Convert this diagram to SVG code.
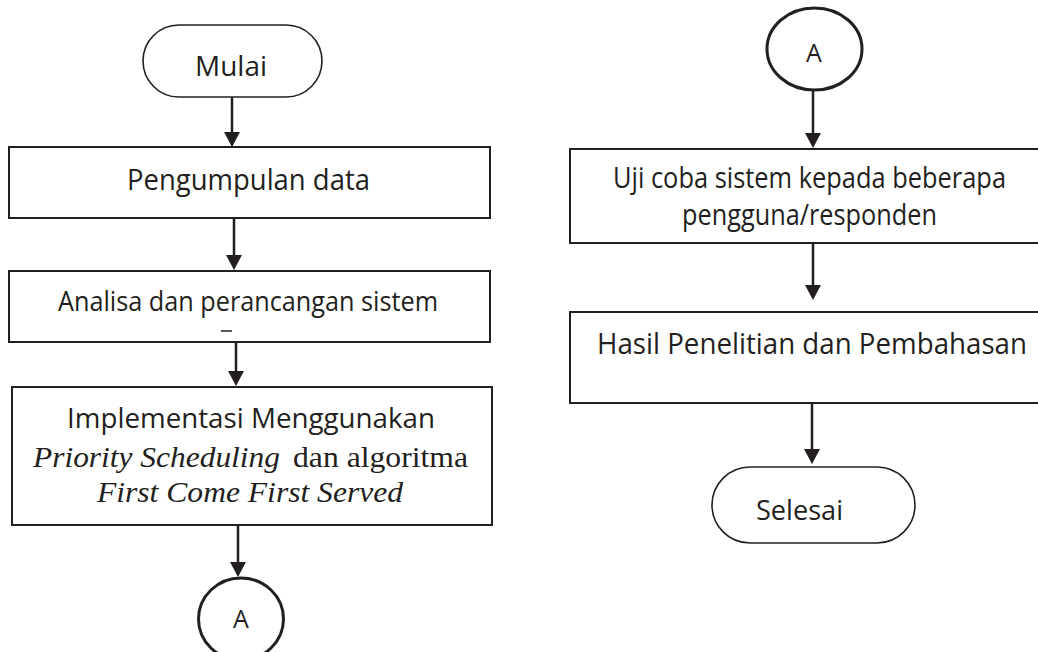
<svg xmlns="http://www.w3.org/2000/svg" width="1038" height="652" viewBox="0 0 1038 652">
<style>
.bg{fill:#ffffff}
.box{fill:#ffffff;stroke:#231f20;stroke-width:2}
.term{fill:#ffffff;stroke:#231f20;stroke-width:1.6}
.conn{fill:#ffffff;stroke:#231f20;stroke-width:3}
.edge{fill:none;stroke:#231f20;stroke-width:2.5}
.t{font-family:"Open Sans","Noto Sans","Liberation Sans",sans-serif;fill:#231f20;text-anchor:middle}
.s{font-family:"Liberation Serif","Times New Roman",serif;fill:#231f20}
.i{font-style:italic}
</style>
<defs>
<marker id="ah" viewBox="0 0 15 16" refX="7" refY="8" markerWidth="15" markerHeight="16" markerUnits="userSpaceOnUse" orient="auto">
<path d="M0,0 L15,8 L0,16 Z" fill="#231f20"/>
</marker>
</defs>
<rect class="bg" x="0" y="0" width="1038" height="652"/>

<g id="connectors">
<line class="edge" x1="232" y1="97" x2="232" y2="139" marker-end="url(#ah)"/>
<line class="edge" x1="234" y1="218" x2="234" y2="262" marker-end="url(#ah)"/>
<line class="edge" x1="236" y1="342" x2="236" y2="378" marker-end="url(#ah)"/>
<line class="edge" x1="238" y1="525" x2="238" y2="569" marker-end="url(#ah)"/>
<line class="edge" x1="813" y1="90" x2="813" y2="140" marker-end="url(#ah)"/>
<line class="edge" x1="813" y1="243" x2="813" y2="292" marker-end="url(#ah)"/>
<line class="edge" x1="812" y1="403" x2="812" y2="456" marker-end="url(#ah)"/>
</g>

<g id="mulai">
<rect class="term" x="143" y="25" width="179" height="72" rx="36" ry="36"/>
<text class="t" x="231" y="76" font-size="27" textLength="72" lengthAdjust="spacingAndGlyphs">Mulai</text>
</g>

<g id="pengumpulan">
<rect class="box" x="9" y="147" width="481" height="71"/>
<text class="t" x="248.5" y="190" font-size="29" textLength="243" lengthAdjust="spacingAndGlyphs">Pengumpulan data</text>
</g>

<g id="analisa">
<rect class="box" x="9" y="271" width="481" height="71"/>
<text class="t" x="248" y="311" font-size="27" textLength="380" lengthAdjust="spacingAndGlyphs">Analisa dan perancangan sistem</text>
<line x1="221" y1="331" x2="232" y2="331" stroke="#231f20" stroke-width="1.5"/>
</g>

<g id="implementasi">
<rect class="box" x="12" y="387" width="480" height="138"/>
<text class="t" x="251" y="428" font-size="28" textLength="368" lengthAdjust="spacingAndGlyphs">Implementasi Menggunakan</text>
<text class="s i" x="33" y="467" font-size="29" textLength="247" lengthAdjust="spacingAndGlyphs">Priority Scheduling</text>
<text class="s" x="293" y="467" font-size="29" textLength="175" lengthAdjust="spacingAndGlyphs">dan algoritma</text>
<text class="s i" x="97" y="502" font-size="29" textLength="306" lengthAdjust="spacingAndGlyphs">First Come First Served</text>
</g>

<g id="connector-a-out">
<ellipse class="conn" cx="241" cy="619" rx="42.5" ry="41"/>
<text class="t" x="241" y="628" font-size="25">A</text>
</g>

<g id="connector-a-in">
<ellipse class="conn" cx="814.5" cy="49" rx="47.5" ry="41"/>
<text class="t" x="814" y="62" font-size="25">A</text>
</g>

<g id="ujicoba">
<rect class="box" x="570" y="149" width="490" height="94"/>
<text class="t" x="809.5" y="188" font-size="29" textLength="393" lengthAdjust="spacingAndGlyphs">Uji coba sistem kepada beberapa</text>
<text class="t" x="809.5" y="225" font-size="29" textLength="255" lengthAdjust="spacingAndGlyphs">pengguna/responden</text>
</g>

<g id="hasil">
<rect class="box" x="570" y="312" width="490" height="91"/>
<text class="t" x="812" y="354" font-size="29" textLength="430" lengthAdjust="spacingAndGlyphs">Hasil Penelitian dan Pembahasan</text>
</g>

<g id="selesai">
<rect class="term" x="712" y="467" width="203" height="76" rx="38" ry="38"/>
<text class="t" x="799.5" y="520" font-size="28" textLength="87" lengthAdjust="spacingAndGlyphs">Selesai</text>
</g>
</svg>
